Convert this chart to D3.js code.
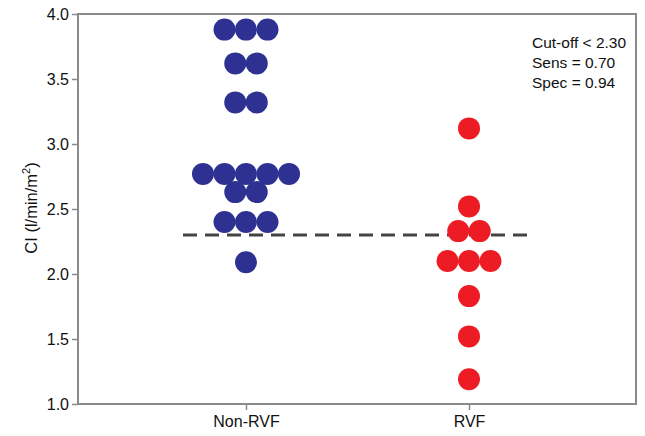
<!DOCTYPE html>
<html>
<head>
<meta charset="utf-8">
<script src="https://cdn.jsdelivr.net/npm/d3@7"></script>
<style>
  html, body { margin: 0; padding: 0; background: #fff; }
  svg { display: block; font-family: "Liberation Sans", Arial, Helvetica, sans-serif; }
</style>
</head>
<body>
<svg id="chart" width="645" height="436"></svg>
<script>
// Groups on the x axis
const categories = ["Non-RVF", "RVF"];

// Cardiac index per patient, listed row by row (same value = same row of the swarm)
const nonRvfValues = [
  3.88, 3.88, 3.88,
  3.62, 3.62,
  3.32, 3.32,
  2.77, 2.77, 2.77, 2.77, 2.77,
  2.63, 2.63,
  2.40, 2.40, 2.40,
  2.09
];
const rvfValues = [
  3.12,
  2.52,
  2.33, 2.33,
  2.10, 2.10, 2.10,
  1.83,
  1.52,
  1.19
];

const yTicks = [1.0, 1.5, 2.0, 2.5, 3.0, 3.5, 4.0];
const cutoff = 2.30;
const statsLines = ["Cut-off < 2.30", "Sens = 0.70", "Spec = 0.94"];

const colors = { "Non-RVF": "#2e3192", "RVF": "#ed1c24" };

const svg = d3.select("#chart");
const margin = { left: 78, right: 9, top: 14, bottom: 32 };
const W = 645, H = 436;
const innerW = W - margin.left - margin.right;
const innerH = H - margin.top - margin.bottom;

const g = svg.append("g").attr("transform", `translate(${margin.left},${margin.top})`);

// the two groups sit at fixed positions inside the frame
const x = d3.scalePoint().domain(categories).range([168, 391]).padding(0);
const y = d3.scaleLinear().domain([1, 4]).range([innerH, 0]);

const frameColor = "#8a8a8a";

// frame
g.append("rect")
  .attr("x", 0).attr("y", 0)
  .attr("width", innerW).attr("height", innerH)
  .attr("fill", "none")
  .attr("stroke", frameColor)
  .attr("stroke-width", 2);

// y axis
const yAxis = g.append("g")
  .call(d3.axisLeft(y).tickValues(yTicks).tickFormat(d3.format(".1f")).tickSize(6).tickPadding(3));
yAxis.select(".domain").remove();
yAxis.selectAll(".tick line").attr("stroke", frameColor).attr("stroke-width", 1.5);
yAxis.selectAll(".tick text")
  .attr("fill", "#111")
  .style("font-size", "16px");

// x axis
const xAxis = g.append("g")
  .attr("transform", `translate(0,${innerH})`)
  .call(d3.axisBottom(x).tickSize(6).tickPadding(6));
xAxis.select(".domain").remove();
xAxis.selectAll(".tick line").attr("stroke", frameColor).attr("stroke-width", 1.5);
xAxis.selectAll(".tick text")
  .attr("fill", "#111")
  .style("font-size", "16px");

// y axis title with superscript
const yTitle = svg.append("text")
  .attr("transform", `translate(37,208) rotate(-90)`)
  .attr("text-anchor", "middle")
  .attr("fill", "#111")
  .style("font-size", "16.5px");
yTitle.append("tspan").text("CI (l/min/m");
yTitle.append("tspan").attr("dy", -7).style("font-size", "11px").text("2");
yTitle.append("tspan").attr("dy", 7).text(")");

// cut-off line (behind the dots)
g.append("line")
  .attr("x1", 105).attr("x2", 453)
  .attr("y1", y(cutoff)).attr("y2", y(cutoff))
  .attr("stroke", "#444")
  .attr("stroke-width", 2.8)
  .attr("stroke-dasharray", "14,8");

// swarm layout: dots with equal value share a row, centred on the group
const r = 11;
const step = 21.5;
function swarm(values, cat) {
  const rows = d3.group(values, v => v);
  const pts = [];
  for (const [v, arr] of rows) {
    const n = arr.length;
    arr.forEach((_, i) => pts.push({ cat, v, dx: (i - (n - 1) / 2) * step }));
  }
  return pts;
}
const points = swarm(nonRvfValues, "Non-RVF").concat(swarm(rvfValues, "RVF"));

g.append("g").selectAll("circle")
  .data(points)
  .join("circle")
  .attr("cx", d => x(d.cat) + d.dx)
  .attr("cy", d => y(d.v))
  .attr("r", r)
  .attr("fill", d => colors[d.cat]);

// statistics text, top right
const stats = svg.append("text")
  .attr("x", 532).attr("y", 48)
  .attr("fill", "#111")
  .style("font-size", "15.5px");
statsLines.forEach((s, i) => {
  stats.append("tspan").attr("x", 532).attr("dy", i === 0 ? 0 : 20).text(s);
});
</script>
</body>
</html>
